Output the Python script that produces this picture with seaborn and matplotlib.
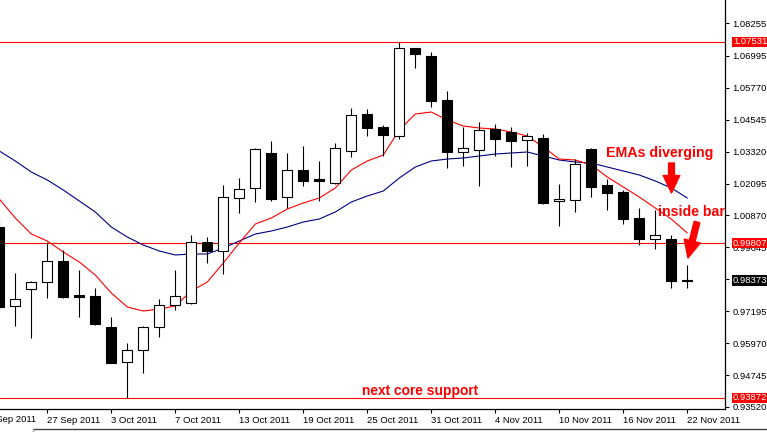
import matplotlib
matplotlib.use("Agg")
import matplotlib.pyplot as plt
from matplotlib.lines import Line2D
import numpy as np
import pandas as pd
import seaborn as sns

# daily candles, 22 Sep 2011 .. 22 Nov 2011
opens = [1.00427, 0.97395, 0.98048, 0.98316, 0.99122, 0.97818, 0.97779, 0.96590, 0.95247, 0.95707,
         0.96590, 0.97434, 0.97511, 0.99851, 0.99506, 1.01540, 1.01924, 1.03267, 1.01578, 1.02614,
         1.02250, 1.02115, 1.03343, 1.04763, 1.04264, 1.03919, 1.07296, 1.06989, 1.05300, 1.03305,
         1.03382, 1.04188, 1.04072, 1.03765, 1.03842, 1.01425, 1.01463, 1.03420, 1.02039, 1.01770,
         1.00772, 0.99966, 0.99966, 0.98385]
highs = [1.00696, 0.98662, 0.98355, 0.99851, 0.99544, 0.98777, 0.98086, 0.96973, 0.95976, 0.96628,
         0.97664, 0.98777, 1.00120, 1.00043, 1.02039, 1.02307, 1.03440, 1.03727, 1.03267, 1.03535,
         1.02960, 1.03650, 1.04993, 1.04955, 1.04341, 1.07531, 1.07310, 1.07142, 1.05646, 1.04264,
         1.04456, 1.04379, 1.04264, 1.04034, 1.03996, 1.02077, 1.03036, 1.03458, 1.02269, 1.01847,
         1.01156, 1.01079, 1.00120, 0.98969]
lows = [0.97165, 0.96628, 0.96168, 0.97702, 0.97702, 0.96973, 0.96666, 0.95190, 0.93872, 0.94824,
        0.96206, 0.97242, 0.97472, 0.99045, 0.98623, 1.00964, 1.01386, 1.01425, 1.01156, 1.02000,
        1.01425, 1.02077, 1.03113, 1.03919, 1.03151, 1.03804, 1.06528, 1.05032, 1.02691, 1.02768,
        1.02000, 1.03151, 1.02729, 1.02768, 1.01310, 1.00465, 1.01003, 1.01578, 1.01079, 1.00542,
        0.99736, 0.99583, 0.98086, 0.98098]
closes = [0.97357, 0.97664, 0.98316, 0.99122, 0.97741, 0.97741, 0.96705, 0.95208, 0.95707, 0.96590,
          0.97434, 0.97779, 0.99851, 0.99506, 1.01578, 1.01885, 1.03420, 1.01501, 1.02614, 1.02192,
          1.02211, 1.03458, 1.04725, 1.04226, 1.03957, 1.07296, 1.07065, 1.05262, 1.03305, 1.03458,
          1.04149, 1.03804, 1.03727, 1.03919, 1.01348, 1.01501, 1.02844, 1.01962, 1.01732, 1.00734,
          0.99966, 1.00120, 0.98355, 0.98373]
ema_fast = [1.01501, 1.00772, 1.00158, 0.99890, 0.99468, 0.99084, 0.98585, 0.97894, 0.97357, 0.97204,
            0.97280, 0.97395, 0.97971, 0.98316, 0.99045, 0.99813, 1.00542, 1.00772, 1.01118, 1.01348,
            1.01540, 1.01924, 1.02614, 1.02960, 1.03190, 1.04149, 1.04763, 1.04840, 1.04533, 1.04303,
            1.04226, 1.04188, 1.04072, 1.03919, 1.03497, 1.03036, 1.02998, 1.02806, 1.02346, 1.01962,
            1.01578, 1.01156, 1.00734, 1.00197]
ema_slow = [1.03343, 1.02960, 1.02537, 1.02230, 1.01847, 1.01425, 1.01003, 1.00427, 1.00043, 0.99736,
            0.99506, 0.99353, 0.99391, 0.99391, 0.99621, 0.99890, 1.00158, 1.00273, 1.00427, 1.00619,
            1.00734, 1.01003, 1.01386, 1.01617, 1.01808, 1.02307, 1.02729, 1.02960, 1.03036, 1.03075,
            1.03151, 1.03228, 1.03267, 1.03305, 1.03151, 1.02998, 1.02921, 1.02883, 1.02729, 1.02576,
            1.02422, 1.02192, 1.01924, 1.01540]

date_ticks = [2, 6, 10, 14, 18, 22, 26, 30, 34, 38, 42]
date_labels = ["27 Sep 2011", "3 Oct 2011", "7 Oct 2011", "13 Oct 2011", "19 Oct 2011", "25 Oct 2011",
               "31 Oct 2011", "4 Nov 2011", "10 Nov 2011", "16 Nov 2011", "22 Nov 2011"]
price_ticks = [0.93520, 0.94745, 0.95970, 0.97195, 0.98420, 0.99645, 1.00870, 1.02095,
               1.03320, 1.04545, 1.05770, 1.06995, 1.08255]
levels = [1.07531, 0.99807, 0.93872]
last_price = 0.98373

df = pd.DataFrame({"bar": np.arange(-1, len(opens) - 1), "open": opens, "high": highs,
                   "low": lows, "close": closes, "ema_fast": ema_fast, "ema_slow": ema_slow})

W, H = 767, 432


def px(x, y):
    # screen pixel -> figure fraction
    return x / W, 1 - y / H


sns.set_theme(style="white")
plt.rcParams["font.family"] = ["Liberation Sans", "DejaVu Sans"]

fig = plt.figure(figsize=(W / 100, H / 100), dpi=100)
ax = fig.add_axes([0, 23 / H, 725 / W, 409 / H])

for lv in levels:
    ax.axhline(lv, color="#ff0000", lw=0.8, zorder=1)

sns.lineplot(data=df, x="bar", y="ema_slow", color="#000080", lw=0.8, ax=ax, zorder=2)
sns.lineplot(data=df, x="bar", y="ema_fast", color="#ff0000", lw=0.8, ax=ax, zorder=2)

up = df["close"] >= df["open"]
body_lo = df[["open", "close"]].min(axis=1)
body_h = (df["close"] - df["open"]).abs().clip(lower=0.00002)
ax.vlines(df["bar"], df["low"], df["high"], color="black", lw=0.8, zorder=3)
ax.bar(df["bar"], body_h, bottom=body_lo, width=0.63,
       color=np.where(up, "white", "black"), edgecolor="black", linewidth=0.8, zorder=4)

ax.set_xlim((0 - 15.3) / 16, (725 - 15.3) / 16)
ax.set_ylim(0.93443, 1.09138)
ax.set_xlabel("")
ax.set_ylabel("")

for s in ["left", "top"]:
    ax.spines[s].set_visible(False)
for s in ["right", "bottom"]:
    ax.spines[s].set_color("black")
    ax.spines[s].set_linewidth(0.9)

ax.yaxis.tick_right()
ax.set_yticks(price_ticks)
ax.set_yticklabels([f"{v:.5f}" for v in price_ticks])
ax.tick_params(axis="y", length=3, width=0.8, pad=2.5, labelsize=6.8, colors="black", right=True)

ax.set_xticks(date_ticks)
ax.set_xticklabels(date_labels)
for lbl in ax.get_xticklabels():
    lbl.set_ha("left")
ax.tick_params(axis="x", length=3, width=0.8, pad=2, labelsize=6.8, colors="black", bottom=True)
ax.annotate("21 Sep 2011", xy=(-2, 0), xycoords=("data", "axes fraction"),
            xytext=(0, -4.2), textcoords="offset points", ha="left", va="top",
            fontsize=6.8, color="black", annotation_clip=False)

# price boxes on the scale
for lv in levels:
    ax.text(733 / 725, lv, f"{lv:.5f}", transform=ax.get_yaxis_transform(), ha="left", va="center",
            fontsize=6.8, color="white", clip_on=False, zorder=6,
            bbox=dict(boxstyle="square,pad=0.08", fc="#ff0000", ec="none"))
ax.text(733 / 725, last_price, f"{last_price:.5f}", transform=ax.get_yaxis_transform(),
        ha="left", va="center", fontsize=6.8, color="white", clip_on=False, zorder=6,
        bbox=dict(boxstyle="square,pad=0.08", fc="black", ec="none"))

# notes
fig.text(*px(606, 157), "EMAs diverging", color="#ff0000", fontsize=10.2, fontweight="bold",
         ha="left", va="baseline")
fig.text(*px(658, 216), "inside bar", color="#ff0000", fontsize=10.2, fontweight="bold",
         ha="left", va="baseline")
fig.text(*px(362, 395), "next core support", color="#ff0000", fontsize=9.9, fontweight="bold",
         ha="left", va="baseline")

arrow = dict(arrowstyle="simple,head_length=0.9,head_width=0.85,tail_width=0.3",
             fc="#ff0000", ec="#ff0000", shrinkA=0, shrinkB=0, mutation_scale=14)
ax.annotate("", xy=px(671.5, 193), xytext=px(671.5, 163), xycoords="figure fraction",
            textcoords="figure fraction", arrowprops=arrow, annotation_clip=False)
ax.annotate("", xy=px(688, 258), xytext=px(697, 222), xycoords="figure fraction",
            textcoords="figure fraction", arrowprops=arrow, annotation_clip=False)

# window frame below the chart
fig.add_artist(Line2D([33 / W, 1], [1 - 428.5 / H] * 2, color="#404040", lw=1,
                      transform=fig.transFigure))
fig.add_artist(Line2D([33 / W, 33 / W], [1 - 428.5 / H, 0], color="#a0a0a0", lw=1,
                      transform=fig.transFigure))

plt.savefig("out.png", dpi=100)
